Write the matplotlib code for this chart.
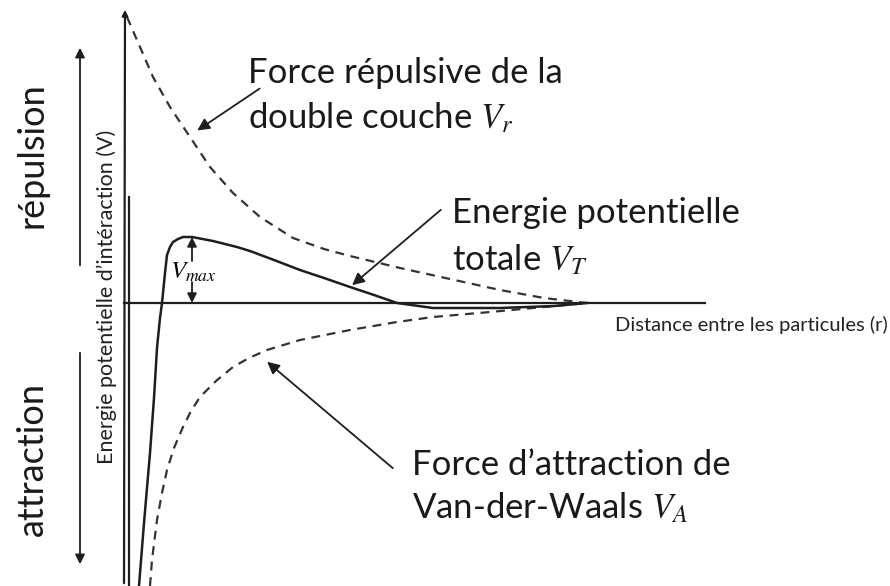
import matplotlib.pyplot as plt

plt.rcParams['font.family'] = ['Lato', 'DejaVu Sans']
plt.rcParams['mathtext.fontset'] = 'stix'

r_rep = [3, 16, 29, 46, 66, 86, 109, 136, 169, 200, 226, 276, 326, 376, 420, 463]
v_rep = [286, 256, 226, 196, 166, 136, 110, 86, 65, 54, 47, 35, 24, 13, 5, 0]

r_tot = [15, 20, 26, 30, 33, 36, 38, 41, 43, 46, 49, 54, 59, 68, 89, 113, 126, 150, 176, 200, 226, 250, 273, 309, 376, 430, 463]
v_tot = [-283, -220, -150, -95, -45, -15, 0, 30, 48, 56, 61, 64, 66, 66, 62, 56, 52, 43, 33, 25, 16, 8, 0, -5, -5, -3, 0]

r_att = [26, 28, 33, 38, 43, 50, 59, 67, 76, 92, 109, 125, 143, 176, 226, 273, 309, 366, 420, 463]
v_att = [-283, -257, -217, -190, -167, -145, -124, -108, -94, -78, -64, -55, -47, -37, -27, -19, -14, -9, -4, 0]

fig = plt.figure(figsize=(8.9, 5.86), dpi=100)
ax = fig.add_axes([0, 0, 1, 1])
ax.set_xlim(-124, 766)
ax.set_ylim(-283, 303)
ax.axis('off')

ink = '#1e1e1e'

# axes du schema
ax.plot([0, 581], [0, 0], color=ink, lw=1.6)
ax.annotate('', xy=(1, 296), xytext=(0, -283),
            arrowprops=dict(arrowstyle='-|>', color=ink, lw=1.6, mutation_scale=8))
ax.plot([5, 5], [106, -283], color=ink, lw=1.6)

# courbes
ax.plot(r_rep, v_rep, color='#333333', lw=1.6, dashes=(4, 3))
ax.plot(r_att, v_att, color='#333333', lw=1.6, dashes=(4, 3))
ax.plot(r_tot, v_tot, color=ink, lw=1.8)

# Vmax : deux demi-fleches coupees par le texte
vm = dict(arrowstyle='-|>', color=ink, lw=1.3, mutation_scale=14, shrinkA=0, shrinkB=0)
ax.annotate('', xy=(68, 66), xytext=(68, 42), arrowprops=vm)
ax.annotate('', xy=(68, 0), xytext=(68, 21), arrowprops=vm)
ax.text(69, 31, r'$V_{max}$', fontsize=18, ha='center', va='center')

# fleches vers les courbes
arr = dict(arrowstyle='-|>', color=ink, lw=1.3, mutation_scale=18)
ax.annotate('', xy=(71, 171), xytext=(138, 216), arrowprops=arr)
ax.annotate('', xy=(226, 16), xytext=(319, 95), arrowprops=arr)
ax.annotate('', xy=(141, -57), xytext=(271, -167), arrowprops=arr)

big = 25
ax.text(124, 207, 'Force répulsive de la\ndouble couche $V_r$', fontsize=big,
        ha='left', va='center', linespacing=1.39, color='#1a1a1a')
ax.text(328, 66, 'Energie potentielle\ntotale $V_T$', fontsize=big,
        ha='left', va='center', linespacing=1.5, color='#1a1a1a')
ax.text(288, -184, 'Force d\u2019attraction de\nVan-der-Waals $V_A$', fontsize=big,
        ha='left', va='center', linespacing=1.35, color='#1a1a1a')

ax.text(491, -22, 'Distance entre les particules (r)', fontsize=14.5,
        ha='left', va='center', color='#222222')
ax.text(-17, 6, 'Energie potentielle d\u2019intéraction (V)', fontsize=15.5,
        rotation=90, ha='center', va='center', color='#222222')

# repulsion / attraction
ax.annotate('', xy=(-44, 258), xytext=(-44, 35),
            arrowprops=dict(arrowstyle='-|>', color=ink, lw=1.3, mutation_scale=14))
ax.annotate('', xy=(-44, -264), xytext=(-44, -47),
            arrowprops=dict(arrowstyle='-|>', color=ink, lw=1.3, mutation_scale=14))
ax.text(-92, 148, 'répulsion', fontsize=26, rotation=90, ha='center', va='center', color='#1a1a1a')
ax.text(-92, -156, 'attraction', fontsize=26, rotation=90, ha='center', va='center', color='#1a1a1a')

fig.savefig('out.png', dpi=100)
